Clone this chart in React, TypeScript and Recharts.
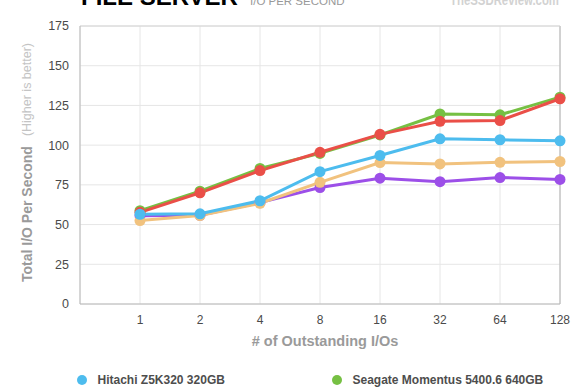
import { CartesianGrid, Line, LineChart, ReferenceLine, XAxis, YAxis } from "recharts";

// # of outstanding I/Os (x categories)
const OUTSTANDING = ["1", "2", "4", "8", "16", "32", "64", "128"];

// Total I/O per second
const HITACHI = [56.5, 56.8, 65, 83.3, 93.5, 104, 103.4, 102.7];
const SEAGATE = [58.7, 71, 85.3, 94.8, 106.4, 119.6, 119.1, 130.2];
const RED_DRIVE = [57.7, 70, 84, 95.5, 106.8, 115, 115.5, 129.2];
const TAN_DRIVE = [52.5, 55.7, 63.4, 76.6, 89, 88.2, 89.2, 89.7];
const PURPLE_DRIVE = [55.5, 55.8, 63.8, 73.3, 79.2, 77, 79.6, 78.4];

const Y_TICKS = [0, 25, 50, 75, 100, 125, 150, 175];

// legend order (only the first row is visible in the frame)
const SERIES = [
  { key: "hitachi", name: "Hitachi Z5K320 320GB", color: "#4dbcee", values: HITACHI },
  { key: "seagate", name: "Seagate Momentus 5400.6 640GB", color: "#76c043", values: SEAGATE },
  { key: "red", name: "Drive C", color: "#ea4f48", values: RED_DRIVE },
  { key: "tan", name: "Drive D", color: "#f1c27e", values: TAN_DRIVE },
  { key: "purple", name: "Drive E", color: "#9c4fe8", values: PURPLE_DRIVE },
];

// drawing order, last one on top
const DRAW_ORDER = ["purple", "tan", "seagate", "red", "hitachi"];

const FONT = '"Liberation Sans", Arial, Helvetica, sans-serif';

const data = OUTSTANDING.map((label, i) => {
  const row: Record<string, string | number> = { label };
  SERIES.forEach((s) => {
    row[s.key] = s.values[i];
  });
  return row;
});

function Legend() {
  return (
    <div style={{ position: "absolute", left: 0, top: 0, width: 580, height: 390, pointerEvents: "none" }}>
      {SERIES.map((s, i) => {
        const col = i % 2;
        const row = Math.floor(i / 2);
        return (
          <div
            key={s.key}
            style={{
              position: "absolute",
              left: 77 + col * 255,
              top: 372 + row * 22,
              display: "flex",
              alignItems: "center",
              height: 16,
              whiteSpace: "nowrap",
            }}
          >
            <span style={{ width: 10, height: 10, borderRadius: 5, background: s.color, display: "inline-block" }} />
            <span style={{ marginLeft: 10.5, fontSize: 12, fontWeight: 700, color: "#4d4d4d" }}>{s.name}</span>
          </div>
        );
      })}
    </div>
  );
}

export default function App() {
  return (
    <div
      style={{
        position: "fixed",
        left: 0,
        top: 0,
        width: 580,
        height: 390,
        overflow: "hidden",
        background: "#fff",
        fontFamily: FONT,
      }}
    >
      <svg width={580} height={390} style={{ position: "absolute", left: 0, top: 0 }}>
        <text x={81} y={5} fontSize={24} fontWeight={700} fill="#000" fontFamily={FONT}>
          FILE SERVER
        </text>
        <text x={250} y={5} fontSize={11.5} fill="#999" fontFamily={FONT}>
          I/O PER SECOND
        </text>
        <text x={450} y={5} fontSize={14} fontWeight={700} fill="#d2d2d2" fontFamily={FONT} textLength={109} lengthAdjust="spacingAndGlyphs">
          TheSSDReview.com
        </text>
        <text
          x={27}
          y={282}
          transform="rotate(-90, 27, 282)"
          dominantBaseline="central"
          fontFamily={FONT}
        >
          <tspan fontSize={14} fontWeight={700} fill="#9a9a9a">Total I/O Per Second</tspan>
          <tspan dx={10} fontSize={12.5} fill="#c4c4c4">(Higher is better)</tspan>
        </text>
        <text x={325} y={341} textAnchor="middle" dominantBaseline="central" fontSize={14.5} fontWeight={700} fill="#9a9a9a" fontFamily={FONT}>
          # of Outstanding I/Os
        </text>
      </svg>
      <div style={{ position: "absolute", left: 0, top: 0 }}>
        <LineChart width={580} height={390} data={data} margin={{ top: 26, right: 20, bottom: 56, left: 0 }}>
          <CartesianGrid stroke="#e6e6e6" strokeWidth={1} />
          <XAxis
            dataKey="label"
            type="category"
            interval={0}
            padding={{ left: 60, right: 0 }}
            height={30}
            tickLine={false}
            axisLine={{ stroke: "#b8b8b8" }}
            tickMargin={5}
            tick={{ fill: "#4a4a4a", fontSize: 12, fontFamily: FONT }}
          />
          <YAxis
            domain={[0, 175]}
            ticks={Y_TICKS}
            width={80}
            interval={0}
            tickLine={false}
            axisLine={{ stroke: "#b8b8b8" }}
            tickMargin={5}
            tick={{ fill: "#4a4a4a", fontSize: 12.5, fontFamily: FONT }}
          />
          <ReferenceLine x="128" stroke="#b0b0b0" />
          <ReferenceLine y={175} stroke="#d4d4d4" />
          {DRAW_ORDER.map((key) => {
            const s = SERIES.find((x) => x.key === key)!;
            return (
              <Line
                key={s.key}
                dataKey={s.key}
                name={s.name}
                type="linear"
                stroke={s.color}
                strokeWidth={3}
                dot={{ r: 5.5, fill: s.color, stroke: s.color, strokeWidth: 0 }}
                activeDot={false}
                isAnimationActive={false}
              />
            );
          })}
        </LineChart>
      </div>
      <Legend />
    </div>
  );
}
